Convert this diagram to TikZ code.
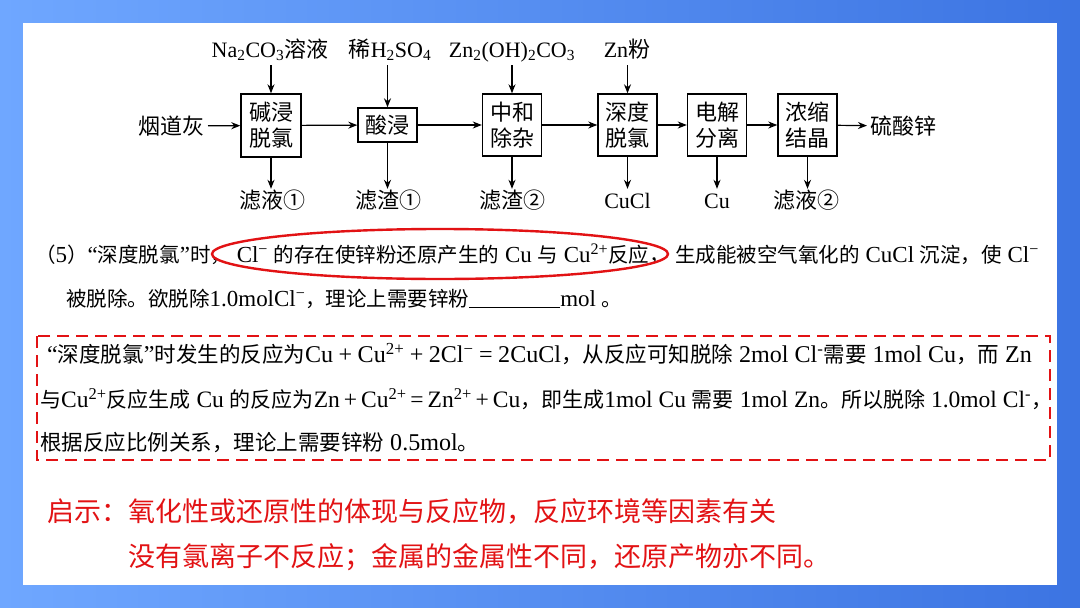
\documentclass[tikz,border=0pt]{standalone}
\usepackage{fontspec}
\setmainfont{Liberation Serif}
\newfontfamily\cjk{Noto Sans CJK SC}
\newfontfamily\latplain{Liberation Serif}
\newfontfamily\latbig{Liberation Serif}[Scale=1.12]
\newcommand{\lat}{\latplain}
\usepackage{xcolor}
\usetikzlibrary{arrows.meta,positioning,calc}

% switch to the CJK face for Chinese characters
\XeTeXinterchartokenstate=1
\newXeTeXintercharclass\zhclass
\newcount\zhchar
\newcommand{\zhrange}[2]{%
  \zhchar=#1\relax
  \loop\XeTeXcharclass\zhchar=\zhclass
  \ifnum\zhchar<#2\advance\zhchar by 1\repeat}
\zhrange{"2460}{"24FF}
\zhrange{"3000}{"303F}
\zhrange{"4E00}{"9FFF}
\zhrange{"FF00}{"FFEF}
\XeTeXinterchartoks 0 \zhclass = {\cjk}
\XeTeXinterchartoks 4095 \zhclass = {\cjk}
\XeTeXinterchartoks \zhclass 0 = {\lat}
\XeTeXinterchartoks \zhclass 4095 = {\lat}

\newcommand{\chemup}[1]{\textsuperscript{#1}}
\newcommand{\chemdn}[1]{\textsubscript{#1}}
\newcommand{\op}[1]{\hspace{5.5pt}#1\hspace{5.5pt}}

\definecolor{bgleft}{RGB}{111,167,255}
\definecolor{bgright}{RGB}{60,116,226}
\definecolor{hintred}{RGB}{226,18,20}

\begin{document}
\begin{tikzpicture}[
    x=1pt,
    y=-1pt,
    >={Stealth[length=9pt, width=7pt]},
    flow/.style={->, line width=1.2pt, black},
    procbox/.style={draw=black, line width=1.4pt, minimum width=59pt,
                    minimum height=62pt, inner sep=0pt, align=center,
                    font=\fontsize{22}{26}\selectfont},
    flowtxt/.style={font=\fontsize{22}{26}\selectfont, inner sep=3pt},
    inlab/.style={flowtxt, text height=16pt, text depth=5pt, anchor=base},
    para/.style={font=\fontsize{20.5}{24}\selectfont\let\lat\latbig\lat,
                 anchor=base west, inner sep=0pt},
    answer/.style={para, font=\fontsize{21.5}{25}\selectfont\let\lat\latbig\lat},
    hint/.style={font=\fontsize{27}{31}\selectfont, text=hintred,
                 anchor=base west, inner sep=0pt},
    ring/.style={draw=hintred, line width=2.4pt},
    dashbox/.style={draw=hintred, line width=2.4pt, dash pattern=on 12pt off 7pt},
]
\useasboundingbox (0,0) rectangle (1080,608);
\shade[left color=bgleft, right color=bgright] (0,0) rectangle (1080,608);
\fill[white] (23,23) rectangle (1057,585);

% process chain
\node[flowtxt, anchor=east] (ash) at (208,126) {烟道灰};
\node[procbox, minimum width=60pt, minimum height=63pt] (alk) at (271,125.5) {碱浸\\脱氯};
\node[procbox, minimum height=34pt] (acid) at (387.5,125) {酸浸};
\node[procbox] (neu) at (512,125) {中和\\除杂};
\node[procbox] (deep) at (627.5,125) {深度\\脱氯};
\node[procbox] (elec) at (717,125) {电解\\分离};
\node[procbox] (conc) at (807.5,125) {浓缩\\结晶};
\node[flowtxt, anchor=west] (zns) at (867,126) {硫酸锌};

\draw[flow] (ash) -- (alk);
\draw[flow] (alk) -- (acid);
\draw[flow] (acid) -- (neu);
\draw[flow] (neu) -- (deep);
\draw[flow] (deep) -- (elec);
\draw[flow] (elec) -- (conc);
\draw[flow] (conc) -- (zns);

% reagents in
\node[inlab] (soda) at (270,57) {Na\chemdn{2}CO\chemdn{3}溶液};
\node[inlab] (sulf) at (390,57) {稀H\chemdn{2}SO\chemdn{4}};
\node[inlab] (basic) at (512,57) {Zn\chemdn{2}(OH)\chemdn{2}CO\chemdn{3}};
\node[inlab] (znp) at (627,57) {Zn粉};
\draw[flow] (alk.north |- soda.south) -- (alk.north);
\draw[flow] (acid.north |- sulf.south) -- (acid.north);
\draw[flow] (neu.north |- basic.south) -- (neu.north);
\draw[flow] (deep.north |- znp.south) -- (deep.north);

% products out
\node[inlab] (liq1) at (272,208) {滤液①};
\node[inlab] (res1) at (388,208) {滤渣①};
\node[inlab] (res2) at (512,208) {滤渣②};
\node[inlab] (cucl) at (627.5,208) {CuCl};
\node[inlab] (cu) at (717,208) {Cu};
\node[inlab] (liq2) at (806,208) {滤液②};
\draw[flow] (alk.south) -- (alk.south |- liq1.north);
\draw[flow] (acid.south) -- (acid.south |- res1.north);
\draw[flow] (neu.south) -- (neu.south |- res2.north);
\draw[flow] (deep.south) -- (deep.south |- cucl.north);
\draw[flow] (elec.south) -- (elec.south |- cu.north);
\draw[flow] (conc.south) -- (conc.south |- liq2.north);

% question
\node[para] (q1) at (35,262) {（5）“深度脱氯”时， Cl\chemup{−} 的存在使锌粉还原产生的 Cu 与 Cu\chemup{2+}反应， 生成能被空气氧化的 CuCl 沉淀，使 Cl\chemup{−}};
\node[para] (q2) at (66,306) {被脱除。欲脱除1.0molCl\chemup{−}，理论上需要锌粉\rule[-2pt]{91pt}{1.2pt}mol 。};
\draw[ring] (440,254) ellipse [x radius=228, y radius=25];

% answer
\node[answer] (a1) at (47,362) {“深度脱氯”时发生的反应为Cu\op{+}Cu\chemup{2+}\op{+}2Cl\chemup{−}\op{=}2CuCl，从反应可知脱除 2mol Cl\chemup{-}需要 1mol Cu，而 Zn};
\node[answer, font=\fontsize{21}{25}\selectfont\let\lat\latbig\lat] (a2) at (40,407) {与Cu\chemup{2+}反应生成 Cu 的反应为Zn\,+\,Cu\chemup{2+}\,=\,Zn\chemup{2+}\,+\,Cu，即生成1mol Cu 需要 1mol Zn。所以脱除 1.0mol Cl\chemup{-}，};
\node[answer] (a3) at (40,450) {根据反应比例关系，理论上需要锌粉 0.5mol。};
\draw[dashbox] (37,336) rectangle (1050,460);

% hint
\node[hint] (hint1) at (47,521) {启示：氧化性或还原性的体现与反应物，反应环境等因素有关};
\node[hint] (hint2) at (128,566) {没有氯离子不反应；金属的金属性不同，还原产物亦不同。};
\end{tikzpicture}
\end{document}
